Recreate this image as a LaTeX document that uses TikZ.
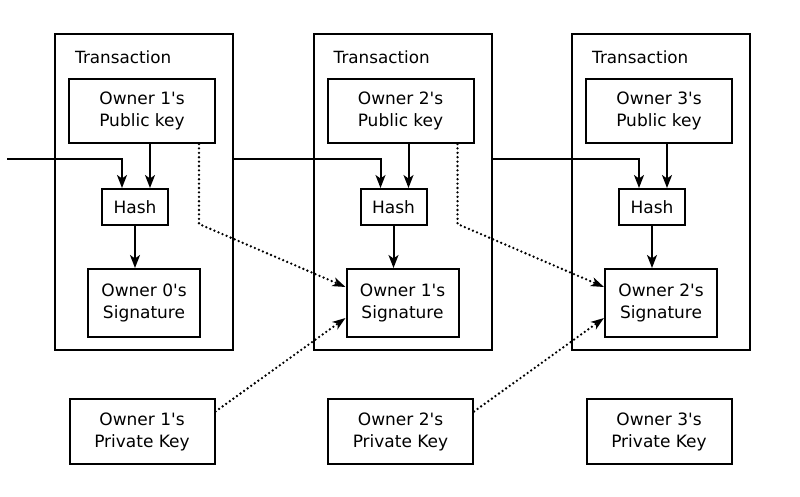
\documentclass[tikz,border=0pt]{standalone}
\usepackage{fontspec}
\setmainfont{DejaVu Sans}[Ligatures=TeXOff]
\usetikzlibrary{arrows.meta,calc}
\begin{document}
\begin{tikzpicture}[x=1pt,y=-1pt,
  box/.style={draw,line width=2pt,inner sep=0pt,align=center,font=\fontsize{17}{22}\selectfont},
  lbl/.style={anchor=west,inner sep=0pt,font=\fontsize{16.8}{21}\selectfont},
  arr/.style={line width=2pt,-{Stealth[length=13pt,width=10pt,inset=3.5pt]}},
  dotarr/.style={line width=2.6pt,line cap=round,dash pattern=on 0pt off 4.4pt,-{Stealth[length=13pt,width=9pt,inset=3.5pt]}}]
\useasboundingbox (0,0) rectangle (800,496);
\foreach \i/\x in {1/0,2/258.5,3/517}{
  \pgfmathtruncatemacro\p{\i-1}
  \node[box,minimum width=178pt,minimum height=316pt] (tx\i) at (144+\x,192) {};
  \node[lbl] (lbl\i) at (75+\x,57) {Transaction};
  \node[box,minimum width=146pt,minimum height=64pt] (pub\i) at (142+\x,111) {Owner \i's\\Public key};
  \node[box,minimum width=66pt,minimum height=36pt] (hash\i) at (135+\x,207) {Hash};
  \node[box,minimum width=112pt,minimum height=68pt] (sig\i) at (144+\x,303) {Owner \p's\\Signature};
  \node[box,minimum width=145pt,minimum height=65pt] (priv\i) at (142+\x,431.5) {Owner \i's\\Private Key};
  \path ($(hash\i.north)+(15,0)$) coordinate (h\i);
  \draw[arr] (h\i |- pub\i.south) -- (h\i);
  \draw[arr] (hash\i.south) -- (hash\i.south |- sig\i.north);
}
\coordinate (in) at (7,159);
\draw[arr] (in) -| ($(hash1.north)+(-13,0)$);
\draw[arr] (tx1.east |- in) -| ($(hash2.north)+(-13,0)$);
\draw[arr] (tx2.east |- in) -| ($(hash3.north)+(-13,0)$);
\path ($(pub1.south)+(57,0)$) coordinate (d1);
\path ($(pub2.south)+(57,0)$) coordinate (d2);
\draw[dotarr] (d1) -- ++(0,80) -- ($(sig2.west)+(0,-16)$);
\draw[dotarr] (d2) -- ++(0,80) -- ($(sig3.west)+(0,-16)$);
\draw[dotarr] ($(priv1.east)+(0,-20)$) -- ($(sig2.west)+(0,15)$);
\draw[dotarr] ($(priv2.east)+(0,-20)$) -- ($(sig3.west)+(0,15)$);
\end{tikzpicture}
\end{document}
